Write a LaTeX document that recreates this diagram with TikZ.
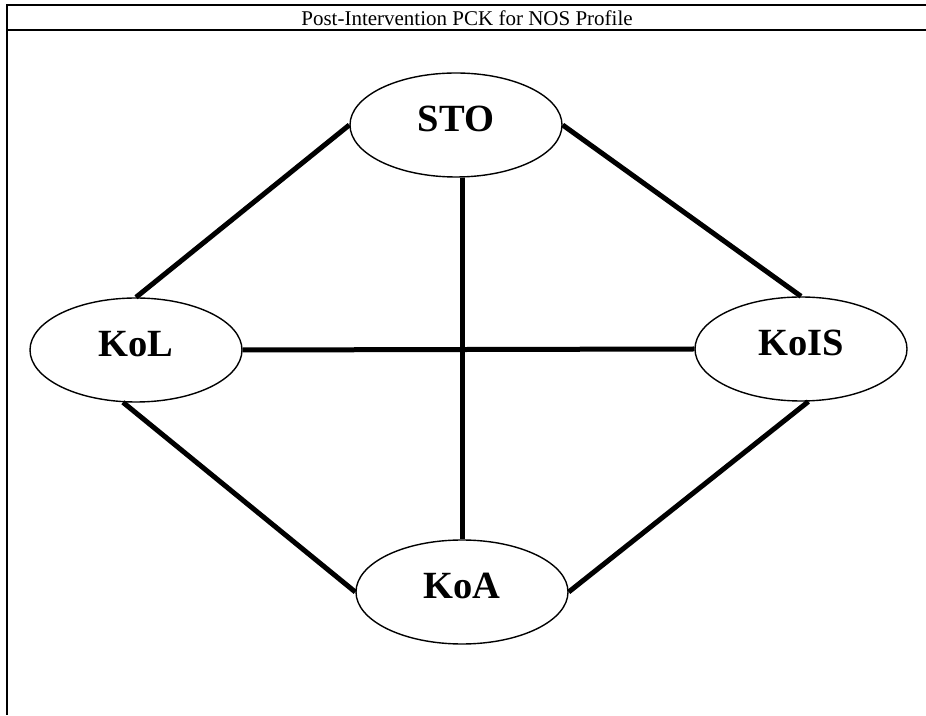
\documentclass[tikz,border=0pt]{standalone}
\usepackage{fontspec}
\setmainfont{Liberation Serif}
\usetikzlibrary{shapes.geometric}
\begin{document}
\begin{tikzpicture}[x=1pt,y=1pt,
  frameline/.style={line width=1.2pt},
  topic/.style={ellipse, draw, line width=1.4pt, minimum width=212pt, minimum height=104pt,
    inner sep=0pt, text height=26pt, text depth=13pt,
    font=\fontsize{38.5}{40}\selectfont\bfseries},
  link/.style={line width=5pt}]
\useasboundingbox (0,0) rectangle (926,715);
\coordinate (tl) at (7,710);
\coordinate (tr) at (926,710);
\coordinate (hl) at (7,685);
\coordinate (hr) at (926,685);
\coordinate (bl) at (7,0);
\draw[frameline] (tr) -- (tl) -- (bl);
\draw[frameline] (hl) -- (hr);
\node[anchor=base, font=\fontsize{21}{24}\selectfont] (title) at (467,689) {Post-Intervention PCK for NOS Profile};
\node[topic] (sto) at (456,590) {STO};
\node[topic] (kol) at (136,365) {KoL};
\node[topic] (kois) at (801,366) {KoIS};
\node[topic] (koa) at (462,123) {KoA};
\draw[link] (sto.west) -- (kol.north);
\draw[link] (sto.east) -- (kois.north);
\draw[link] (kol.east) -- (kois.west);
\draw[link] (koa.north |- sto.south) -- (koa.north);
\draw[link] (kol.256) -- (koa.west);
\draw[link] (kois.278) -- (koa.east);
\end{tikzpicture}
\end{document}
